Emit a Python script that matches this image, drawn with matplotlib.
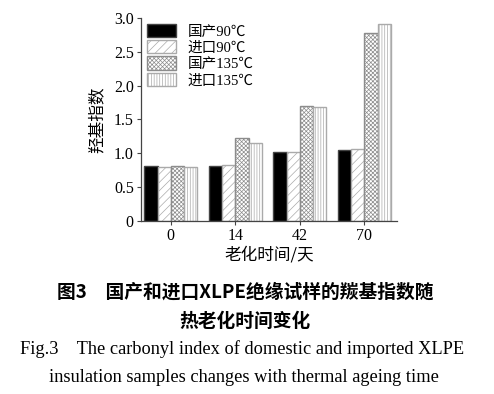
import numpy as np
import matplotlib
matplotlib.use("Agg")
import matplotlib.pyplot as plt

plt.rcParams['font.family'] = ['Liberation Serif', 'Noto Sans CJK SC']
plt.rcParams['hatch.linewidth'] = 0.5

days = ['0', '14', '42', '70']
series = ['国产90℃', '进口90℃', '国产135℃', '进口135℃']
dom_90 = [0.81, 0.81, 1.02, 1.04]
imp_90 = [0.80, 0.83, 1.01, 1.06]
dom_135 = [0.815, 1.23, 1.70, 2.78]
imp_135 = [0.80, 1.155, 1.685, 2.91]

values = [dom_90, imp_90, dom_135, imp_135]
faces = ['black', 'white', 'white', 'white']
hatches = [None, '////', 'xxxxxxxx', '||||||']
edges = ['#444444', '#aaaaaa', '#8c8c8c', '#aaaaaa']

fig = plt.figure(figsize=(4.94, 3.94), dpi=100)
ax = fig.add_axes([0.285, 0.44, 0.519, 0.514])

x = np.arange(len(days))
w = 0.205
for i, vals in enumerate(values):
    ax.bar(x + (i - 1.5) * w, vals, width=w, color=faces[i], edgecolor=edges[i],
           hatch=hatches[i], linewidth=1.0, label=series[i])

ax.set_xlim(-0.465, 0.51 + len(days) - 1)
ax.set_ylim(0, 3.0)
ax.set_yticks([0, 0.5, 1.0, 1.5, 2.0, 2.5, 3.0])
ax.set_yticklabels(['0', '0.5', '1.0', '1.5', '2.0', '2.5', '3.0'])
ax.set_xticks(x)
ax.set_xticklabels(days)
ax.tick_params(labelsize=11.5, length=3, width=0.8, color='#444444', pad=2)
ax.spines['top'].set_visible(False)
ax.spines['right'].set_visible(False)
for s in ['left', 'bottom']:
    ax.spines[s].set_color('#444444')
    ax.spines[s].set_linewidth(0.9)

ax.set_ylabel('羟基指数', fontsize=12, family=['Noto Sans CJK SC'], labelpad=6)
ax.set_xlabel('老化时间/天', fontsize=12, family=['Noto Sans CJK SC'], labelpad=2)

ax.legend(loc='upper left', bbox_to_anchor=(0.0, 1.0), frameon=False,
          handlelength=2.0, handleheight=1.0, labelspacing=0.12, handletextpad=0.8,
          borderaxespad=0.1, borderpad=0.3,
          prop={'family': ['Liberation Serif', 'Noto Sans CJK SC'], 'size': 10.5})

fig.text(0.496, 1 - 292 / 394, '图3　国产和进口XLPE绝缘试样的羰基指数随', ha='center', va='center',
         fontsize=13.5, fontweight='bold', family=['Noto Sans CJK SC'])
fig.text(0.496, 1 - 321 / 394, '热老化时间变化', ha='center', va='center',
         fontsize=13.5, fontweight='bold', family=['Noto Sans CJK SC'])
fig.text(0.489, 1 - 349 / 394, 'Fig.3    The carbonyl index of domestic and imported XLPE', ha='center',
         va='center', fontsize=13.2, family=['Liberation Serif'])
fig.text(0.494, 1 - 378 / 394, 'insulation samples changes with thermal ageing time', ha='center',
         va='center', fontsize=13.2, family=['Liberation Serif'])

fig.savefig('out.png', dpi=100)
